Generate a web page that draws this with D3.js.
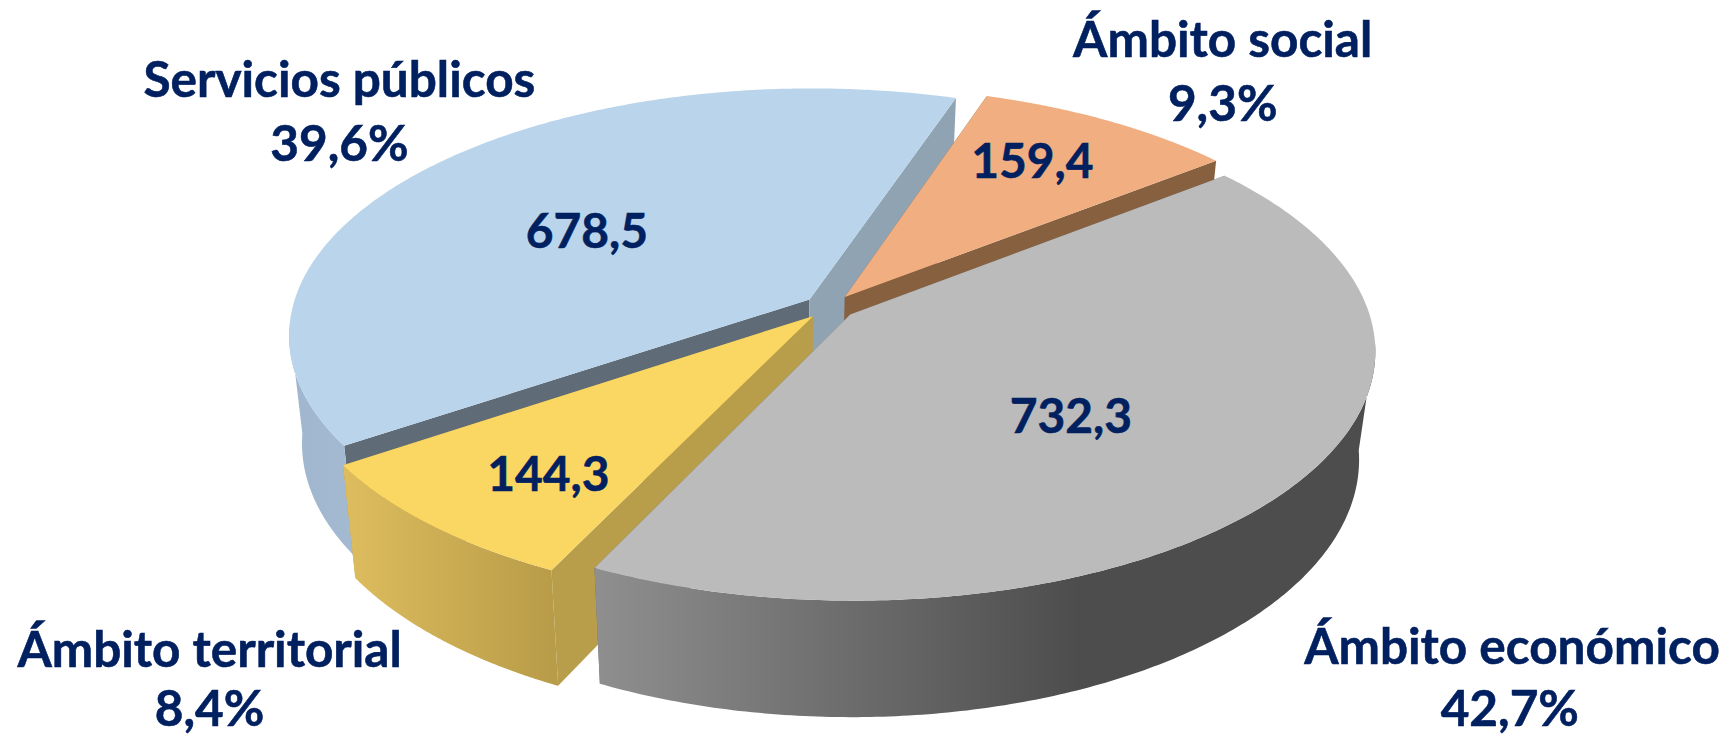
<!DOCTYPE html>
<html><head><meta charset="utf-8">
<script src="https://cdn.jsdelivr.net/npm/d3@7/dist/d3.min.js"></script>
<style>html,body{margin:0;padding:0;background:#fff;overflow:hidden}svg{display:block}
text{font-family:Lato,Carlito,"Open Sans",sans-serif;font-weight:700;fill:#002060;stroke:#002060;stroke-width:0.5;text-anchor:middle}</style>
</head><body><svg id="c"></svg>
<script>
const categories = ["Ámbito social","Ámbito económico","Ámbito territorial","Servicios públicos"];
const values = [159.4,732.3,144.3,678.5];
const valueLabels = ["159,4","732,3","144,3","678,5"];
const percentLabels = ["9,3%","42,7%","8,4%","39,6%"];
const topColors = ["#F1AE80","#BBBBBB","#FAD663","#BAD5EB"];
const startWallColors = ["#86603F","#6b6b6b","#B89D4A","#5F6C78"];
const endWallColors = ["#86603F","#6b6b6b","#B89D4A","#8FA3B2"];
const outerWallStops = [
  [[0,"#B3855F"],[1,"#86603F"]],
  [[0,"#8F8F8F"],[0.62,"#4D4D4D"],[1,"#4D4D4D"]],
  [[0,"#DDBD5E"],[1,"#B89B48"]],
  [[0,"#A0B6CE"],[1,"#A4BAD1"]]
];
const drawOrder = [3,0,2,1];
const labelPos = [[1111,52],[1374,604],[190,606],[308,88]];
const percentPos = [[1111,110],[1372,660],[190,660],[308,146]];
const valuePos = [[938,162],[973,394],[498,446],[533,225]];

const W=1568,H=670;
const cx=754,cy=279,a=470,b=221,k=0.142,explode=0.05,
      depth=0.027,vpX=702,vpY=4000,startDeg=18.5,silhouette=0.1;

const svg=d3.select("#c").attr("width",1726).attr("height",737).attr("viewBox",`0 0 ${W} ${H}`);
const defs=svg.append("defs");

const pie=d3.pie().sort(null)
  .startAngle(startDeg*Math.PI/180).endAngle((startDeg+360)*Math.PI/180);
const arcs=pie(values);

function project(X,Y,bottom){
  const w=1-k*Y; let x=cx+a*X/w, y=cy+b*Y/w;
  if(bottom){const t=depth/(w+depth); x+=t*(vpX-x); y+=t*(vpY-y);}
  return [x,y];
}
const line=d3.line().curve(d3.curveLinear);

arcs.forEach(d=>{
  const mid=(d.startAngle+d.endAngle)/2;
  const ox=explode*Math.sin(mid), oy=-explode*Math.cos(mid);
  const angles=d3.range(0,241).map(j=>d.startAngle+(d.endAngle-d.startAngle)*j/240);
  d.point=(t,bottom)=>project(ox+Math.sin(t),oy-Math.cos(t),bottom);
  d.angles=angles;
  d.front=angles.filter(t=>-Math.cos(t)>=silhouette);
  d.apex=bottom=>project(ox,oy,bottom);
});

outerWallStops.forEach((st,i)=>{
  const g=defs.append("linearGradient").attr("id","wall"+i).attr("x1",0).attr("x2",1).attr("y1",0).attr("y2",0);
  st.forEach(s=>g.append("stop").attr("offset",s[0]).attr("stop-color",s[1]));
});

drawOrder.forEach(i=>{
  const d=arcs[i], g=svg.append("g");
  const t0=d.angles[0], t1=d.angles[d.angles.length-1];
  const A=d.apex(false),B=d.apex(true);
  g.append("path").attr("d",line([A,d.point(t0,false),d.point(t0,true),B])+"Z").attr("fill",startWallColors[i]);
  g.append("path").attr("d",line([A,d.point(t1,false),d.point(t1,true),B])+"Z").attr("fill",endWallColors[i]);
  if(d.front.length>1){
    const up=d.front.map(t=>d.point(t,false)), dn=d.front.map(t=>d.point(t,true)).reverse();
    g.append("path").attr("d",line(up.concat(dn))+"Z").attr("fill",`url(#wall${i})`);
  }
  g.append("path").attr("d",line([A].concat(d.angles.map(t=>d.point(t,false))))+"Z").attr("fill",topColors[i]);
});

const fsLabel=45, fsValue=43.5;
categories.forEach((c,i)=>{
  svg.append("text").attr("x",labelPos[i][0]).attr("y",labelPos[i][1]).attr("font-size",fsLabel).text(c);
  svg.append("text").attr("x",percentPos[i][0]).attr("y",percentPos[i][1]).attr("font-size",fsLabel).text(percentLabels[i]);
  svg.append("text").attr("x",valuePos[i][0]).attr("y",valuePos[i][1]).attr("font-size",fsValue).text(valueLabels[i]);
});
</script></body></html>
